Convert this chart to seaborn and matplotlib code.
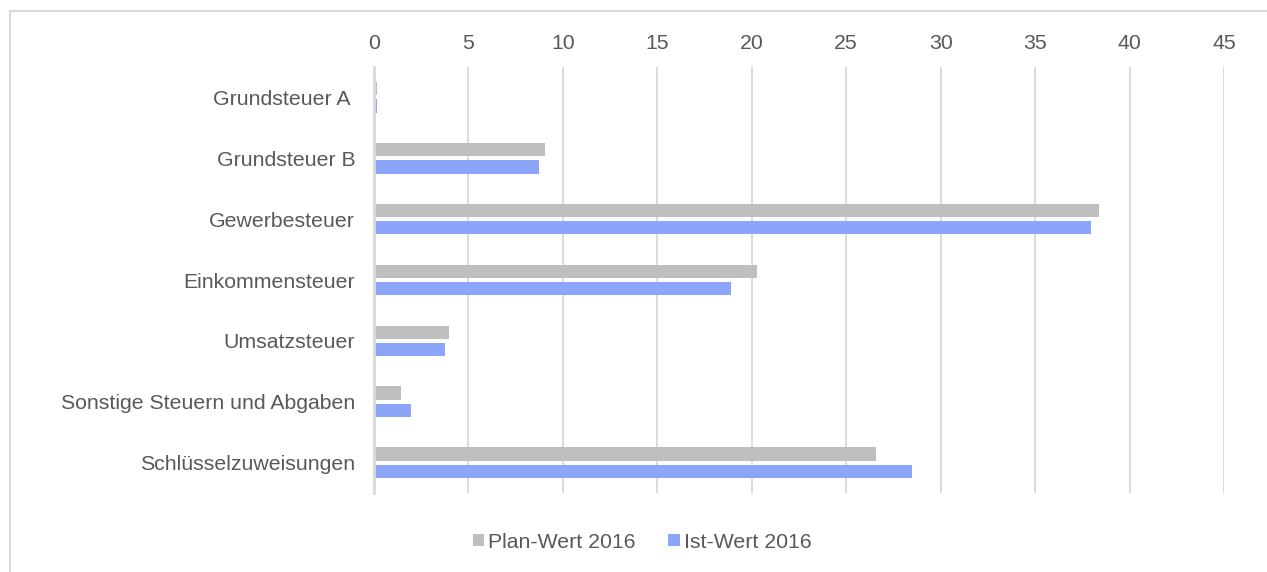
import matplotlib
matplotlib.use("Agg")
import matplotlib.pyplot as plt
from matplotlib.patches import Rectangle
import seaborn as sns
import pandas as pd

categories = [
    "Grundsteuer A ",
    "Grundsteuer B",
    "Gewerbesteuer",
    "Einkommensteuer",
    "Umsatzsteuer",
    "Sonstige Steuern und Abgaben",
    "Schlüsselzuweisungen",
]
plan_2016 = [0.15, 9.05, 38.4, 20.3, 3.97, 1.43, 26.6]
ist_2016 = [0.15, 8.73, 37.95, 18.9, 3.76, 1.94, 28.5]
series_names = ["Plan-Wert 2016", "Ist-Wert 2016"]
x_ticks = [0, 5, 10, 15, 20, 25, 30, 35, 40, 45]

df = pd.DataFrame({
    "Kategorie": categories * 2,
    "Wert": plan_2016 + ist_2016,
    "Reihe": [series_names[0]] * len(categories) + [series_names[1]] * len(categories),
})

sns.set_theme(style="white")
plt.rcParams["font.family"] = ["Liberation Sans", "DejaVu Sans"]

text_color = "#595959"
grid_color = "#D9D9D9"
palette = {series_names[0]: "#BFBFBF", series_names[1]: "#8AA5FA"}
font_size = 15.3

fig = plt.figure(figsize=(12.67, 5.72), dpi=100)
ax = fig.add_axes([374 / 1267, 1 - 493 / 572, (1224 - 374) / 1267, (493 - 67) / 572])

sns.barplot(
    data=df, y="Kategorie", x="Wert", hue="Reihe", order=categories,
    hue_order=series_names, palette=palette, orient="h",
    width=0.57, gap=0.23, saturation=1, linewidth=0, ax=ax, legend=True,
)

ax.set_xlim(0, 45)
ax.set_xticks(x_ticks)
ax.set_xticklabels([str(t) for t in x_ticks])
ax.xaxis.tick_top()
ax.tick_params(axis="x", length=0, pad=10, labelsize=font_size, labelcolor=text_color)
ax.tick_params(axis="y", length=0, pad=13.5, labelsize=font_size, labelcolor=text_color)
ax.set_xlabel("")
ax.set_ylabel("")
ax.grid(axis="x", color=grid_color, linewidth=1.3)
ax.set_axisbelow(True)
for side in ["top", "right", "bottom"]:
    ax.spines[side].set_visible(False)
ax.spines["left"].set_color(grid_color)
ax.spines["left"].set_linewidth(2.0)
ax.spines["left"].set_zorder(1.5)

handles, labels = ax.get_legend_handles_labels()
ax.get_legend().remove()
fig.legend(
    handles, labels, loc="center", bbox_to_anchor=(642 / 1267, 1 - 542 / 572),
    ncol=2, frameon=False, fontsize=font_size, labelcolor=text_color,
    handlelength=0.55, handleheight=0.55, handletextpad=0.2, columnspacing=1.5,
)

# light frame around the whole chart
fig.patches.append(Rectangle(
    (10 / 1267, -0.05), 1.0, 1 - 11 / 572 + 0.05, transform=fig.transFigure,
    fill=False, edgecolor=grid_color, linewidth=1.5,
))

fig.savefig("out.png", dpi=100)
